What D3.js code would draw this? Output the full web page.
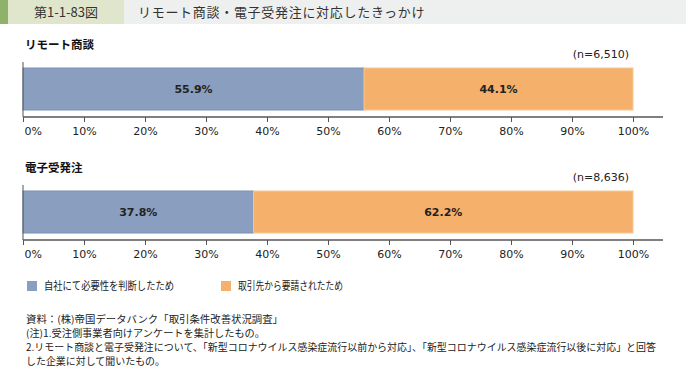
<!DOCTYPE html>
<html>
<head>
<meta charset="utf-8">
<script src="https://cdn.jsdelivr.net/npm/d3@7"></script>
<style>
body { margin: 0; background: #fff; }
svg { display: block; }
</style>
</head>
<body>
<div id="chart"></div>
<script>
const panels = ["リモート商談", "電子受発注"];
const sampleSizes = ["(n=6,510)", "(n=8,636)"];
const seriesNames = ["自社にて必要性を判断したため", "取引先から要請されたため"];
const ownDecision = [55.9, 37.8];
const partnerRequest = [44.1, 62.2];
const ticks = [0, 10, 20, 30, 40, 50, 60, 70, 80, 90, 100];
const notes = [
    "資料：(株)帝国データバンク「取引条件改善状況調査」",
    "(注)1.受注側事業者向けアンケートを集計したもの。",
    "2.リモート商談と電子受発注について、「新型コロナウイルス感染症流行以前から対応」、「新型コロナウイルス感染症流行以後に対応」と回答",
    "した企業に対して聞いたもの。"
];

const width = 686, height = 369;
const colors = ["#8a9ec0", "#f5b06c"];
const jp = "'Noto Sans CJK JP', sans-serif";
const num = "'DejaVu Sans', Verdana, sans-serif";

const svg = d3.select("#chart").append("svg")
    .attr("width", width)
    .attr("height", height);

// title bar
svg.append("rect").attr("x", 0).attr("y", 0).attr("width", width).attr("height", 24).attr("fill", "#eeefef");
svg.append("rect").attr("x", 0).attr("y", 0).attr("width", 124).attr("height", 24).attr("fill", "#dfe6cc");
svg.append("rect").attr("x", 0).attr("y", 0).attr("width", 8).attr("height", 24).attr("fill", "#8fb26a");
svg.append("text").attr("x", 66).attr("y", 17).attr("text-anchor", "middle")
    .attr("font-family", jp).attr("font-size", 13).attr("fill", "#333")
    .text("第1-1-83図");
svg.append("text").attr("x", 138).attr("y", 17)
    .attr("font-family", jp).attr("font-size", 13).attr("letter-spacing", 0.7).attr("fill", "#333")
    .text("リモート商談・電子受発注に対応したきっかけ");

const x = d3.scaleLinear().domain([0, 100]).range([23, 633]);
const tops = [68, 191];
const barH = 42;

panels.forEach((name, i) => {
    const g = svg.append("g");
    const top = tops[i];
    const axisY = top + barH + 7;

    g.append("text").attr("x", 25).attr("y", top - 19)
        .attr("font-family", jp).attr("font-size", 11.5).attr("font-weight", "bold").attr("fill", "#111")
        .text(name);
    g.append("text").attr("x", 629).attr("y", top - 10).attr("text-anchor", "end")
        .attr("font-family", num).attr("font-size", 11).attr("fill", "#222")
        .text(sampleSizes[i]);

    const segs = [
        { v0: 0, v1: ownDecision[i], c: colors[0] },
        { v0: ownDecision[i], v1: ownDecision[i] + partnerRequest[i], c: colors[1] }
    ];
    g.selectAll("rect.seg").data(segs).enter().append("rect")
        .attr("class", "seg")
        .attr("x", d => x(d.v0))
        .attr("y", top)
        .attr("width", d => x(d.v1) - x(d.v0))
        .attr("height", barH)
        .attr("fill", d => d.c)
        .attr("stroke", (d, j) => j === 0 ? "#7a8fb2" : "#f8c896")
        .attr("stroke-width", 1);
    g.selectAll("text.val").data(segs).enter().append("text")
        .attr("class", "val")
        .attr("x", d => (x(d.v0) + x(d.v1)) / 2)
        .attr("y", top + barH / 2 + 4)
        .attr("text-anchor", "middle")
        .attr("font-family", num).attr("font-size", 11).attr("font-weight", "bold").attr("fill", "#222")
        .text(d => (d.v1 - d.v0).toFixed(1) + "%");

    // left axis line
    g.append("line").attr("x1", x(0)).attr("x2", x(0)).attr("y1", top - 6).attr("y2", axisY)
        .attr("stroke", "#555").attr("stroke-width", 1);

    const axis = d3.axisBottom(x).tickValues(ticks).tickSize(5).tickSizeOuter(0).tickFormat(d => d + "%");
    const ag = g.append("g").attr("transform", `translate(0,${axisY})`).call(axis);
    ag.select(".domain").remove();
    ag.append("line").attr("x1", x(0)).attr("x2", 663).attr("y1", 0).attr("y2", 0)
        .attr("stroke", "#555").attr("stroke-width", 1.5);
    ag.selectAll(".tick line").attr("stroke", "#555");
    ag.selectAll(".tick text")
        .attr("font-family", num).attr("font-size", 11).attr("fill", "#222").attr("dy", "0.9em")
        .filter(d => d === 0).attr("text-anchor", "start").attr("dx", 1);
});

// legend
const lg = svg.append("g").attr("transform", "translate(0,281)");
const legendX = [27, 221];
const legendW = [130, 105];
seriesNames.forEach((s, i) => {
    lg.append("rect").attr("x", legendX[i]).attr("y", 0).attr("width", 10).attr("height", 10).attr("fill", colors[i]);
    lg.append("text").attr("x", legendX[i] + 17).attr("y", 9)
        .attr("font-family", jp).attr("font-size", 11).attr("fill", "#222")
        .attr("textLength", legendW[i]).attr("lengthAdjust", "spacingAndGlyphs")
        .text(s);
});

// notes
const noteW = [257, 239, 630, 139];
svg.append("g").selectAll("text").data(notes).enter().append("text")
    .attr("x", 26)
    .attr("y", (d, i) => 322.5 + i * 14.3)
    .attr("font-family", jp).attr("font-size", 9.8).attr("fill", "#222")
    .attr("textLength", (d, i) => noteW[i]).attr("lengthAdjust", "spacingAndGlyphs")
    .text(d => d);
</script>
</body>
</html>
